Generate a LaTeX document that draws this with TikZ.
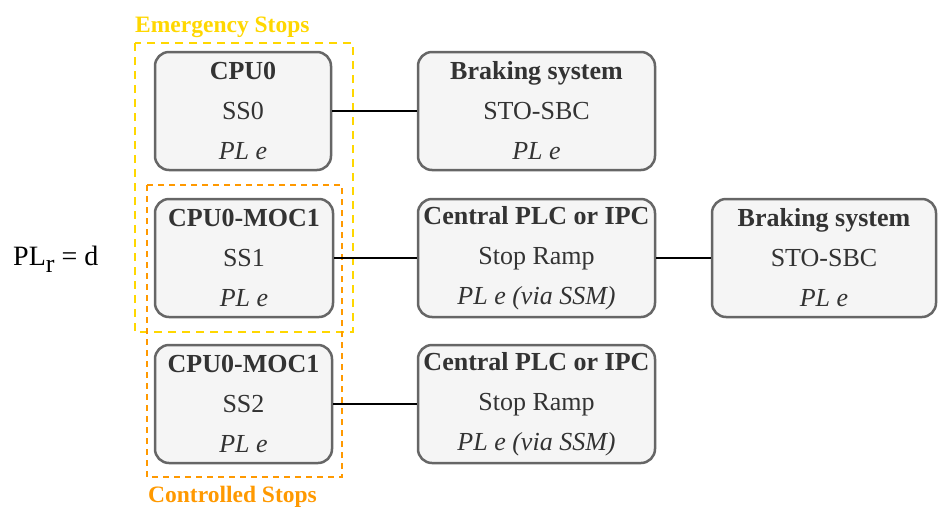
\documentclass[tikz,border=0pt]{standalone}
\usepackage{fontspec}
\setmainfont{LiberationSerif}[Extension=.ttf,
  UprightFont=*-Regular, BoldFont=*-Bold,
  ItalicFont=*-Italic, BoldItalicFont=*-BoldItalic]
\usepackage{tikz}
\usepackage{xcolor}

\definecolor{boxfill}{HTML}{F5F5F5}
\definecolor{boxline}{HTML}{666666}
\definecolor{boxtext}{HTML}{333333}
\definecolor{emgold}{HTML}{FFD700}
\definecolor{ctlorange}{HTML}{FF9900}

\tikzset{
  unit/.style={draw=boxline, fill=boxfill, text=boxtext, line width=2.5pt,
    rounded corners=14pt, align=center, inner sep=0pt,
    minimum height=118pt, font=\fontsize{26}{40}\selectfont},
  link/.style={line width=2pt},
  grouplabel/.style={anchor=base west, inner sep=0pt,
    font=\bfseries\fontsize{23.5}{28}\selectfont},
}

\begin{document}
\begin{tikzpicture}[x=1pt,y=1pt]
\useasboundingbox (0,0) rectangle (938,-507);

% stop categories
\draw[emgold, line width=2.5pt, dash pattern=on 8pt off 6pt] (135,-43) rectangle (353,-332);
\draw[ctlorange, line width=1.8pt, dash pattern=on 6pt off 5pt] (147,-185) rectangle (342,-477);
\node[grouplabel, text=emgold] (emlabel) at (135,-32) {Emergency Stops};
\node[grouplabel, text=ctlorange] (ctllabel) at (148,-502) {Controlled Stops};

\node[anchor=base west, inner sep=0pt, font=\fontsize{28}{32}\selectfont] (plr) at (13,-265)
  {PL\raisebox{-7pt}{\fontsize{26}{26}\selectfont r} = d};

% SS0
\node[unit, minimum width=176pt] (cpu0) at (243,-111) {\textbf{CPU0}\\SS0\\\textit{PL e}};
\node[unit, minimum width=237pt] (brake1) at (536.5,-111) {\textbf{Braking system}\\STO-SBC\\\textit{PL e}};
% SS1
\node[unit, minimum width=178pt] (moc1) at (244,-258) {\textbf{CPU0-MOC1}\\SS1\\\textit{PL e}};
\node[unit, minimum width=237pt] (plc1) at (536.5,-258) {\textbf{Central PLC or IPC}\\Stop Ramp\\\textit{PL e (via SSM)}};
\node[unit, minimum width=224pt] (brake2) at (824,-258) {\textbf{Braking system}\\STO-SBC\\\textit{PL e}};
% SS2
\node[unit, minimum width=177pt] (moc2) at (243.5,-404) {\textbf{CPU0-MOC1}\\SS2\\\textit{PL e}};
\node[unit, minimum width=237pt] (plc2) at (536.5,-404) {\textbf{Central PLC or IPC}\\Stop Ramp\\\textit{PL e (via SSM)}};

\draw[link] (cpu0) -- (brake1);
\draw[link] (moc1) -- (plc1);
\draw[link] (plc1) -- (brake2);
\draw[link] (moc2) -- (plc2);
\end{tikzpicture}
\end{document}
